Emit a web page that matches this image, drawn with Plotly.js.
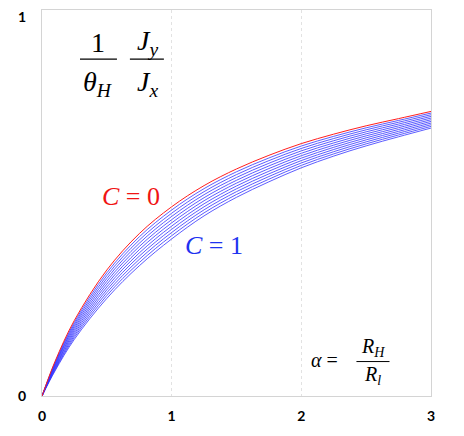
<!DOCTYPE html>
<html>
<head>
<meta charset="utf-8">
<script src="https://cdn.plot.ly/plotly-3.0.1.min.js"></script>
<style>
  html, body { margin: 0; padding: 0; background: #fff; }
  #chart { width: 464px; height: 436px; }
</style>
</head>
<body>
<div id="chart"></div>
<script>
// alpha values (x axis)
var alpha = [0, 0.1, 0.25, 0.5, 0.75, 1, 1.25, 1.5, 1.75, 2, 2.25, 2.5, 2.75, 3];

// C = 0 curve (red)
var curveC0 = [0, 0.091, 0.200, 0.333, 0.429, 0.500, 0.556, 0.600, 0.636, 0.667, 0.692, 0.714, 0.733, 0.752];

// C = 0.1 ... 1 curves (blue)
var curvesBlue = [
    [0, 0.0885, 0.195, 0.3255, 0.4205, 0.4915, 0.548, 0.5925, 0.629, 0.6606, 0.6862, 0.7087, 0.7282, 0.7476],
    [0, 0.086, 0.190, 0.318, 0.412, 0.483, 0.540, 0.585, 0.622, 0.6542, 0.6804, 0.7034, 0.7234, 0.7432],
    [0, 0.0835, 0.185, 0.3105, 0.4035, 0.4745, 0.532, 0.5775, 0.615, 0.6478, 0.6746, 0.6981, 0.7186, 0.7388],
    [0, 0.081, 0.180, 0.303, 0.395, 0.466, 0.524, 0.570, 0.608, 0.6414, 0.6688, 0.6928, 0.7138, 0.7344],
    [0, 0.0785, 0.175, 0.2955, 0.3865, 0.4575, 0.516, 0.5625, 0.601, 0.635, 0.663, 0.6875, 0.709, 0.730],
    [0, 0.076, 0.170, 0.288, 0.378, 0.449, 0.508, 0.555, 0.594, 0.6286, 0.6572, 0.6822, 0.7042, 0.7256],
    [0, 0.0735, 0.165, 0.2805, 0.3695, 0.4405, 0.500, 0.5475, 0.587, 0.6222, 0.6514, 0.6769, 0.6994, 0.7212],
    [0, 0.071, 0.160, 0.273, 0.361, 0.432, 0.492, 0.540, 0.580, 0.6158, 0.6456, 0.6716, 0.6946, 0.7168],
    [0, 0.0685, 0.155, 0.2655, 0.3525, 0.4235, 0.484, 0.5325, 0.573, 0.6094, 0.6398, 0.6663, 0.6898, 0.7124],
    [0, 0.066, 0.150, 0.258, 0.344, 0.415, 0.476, 0.525, 0.566, 0.603, 0.634, 0.661, 0.685, 0.708]
];

var xTicks = [0, 1, 2, 3];
var yTicks = [0, 1];

var data = [];
curvesBlue.forEach(function (c) {
    data.push({
        x: alpha, y: c, type: 'scatter', mode: 'lines',
        line: { color: 'rgb(50,50,255)', width: 0.8, shape: 'spline' },
        hoverinfo: 'skip'
    });
});
data.push({
    x: alpha, y: curveC0, type: 'scatter', mode: 'lines',
    line: { color: 'rgb(255,30,30)', width: 1, shape: 'spline' },
    hoverinfo: 'skip'
});

var serif = 'Liberation Serif, DejaVu Serif, serif';
var bigFont = { family: serif, size: 28, color: '#000' };
var smallFont = { family: serif, size: 20, color: '#000' };

function ann(x, y, text, font) {
    return { x: x, y: y, xref: 'x', yref: 'y', text: text, showarrow: false,
             xanchor: 'center', yanchor: 'middle', font: font };
}

var annotations = [
    ann(0.432, 0.935, '1', bigFont),
    ann(0.432, 0.826, '<i>θ</i><sub><i>H</i></sub>', bigFont),
    ann(0.815, 0.935, '<i>J</i><sub><i>y</i></sub>', bigFont),
    ann(0.815, 0.826, '<i>J</i><sub><i>x</i></sub>', bigFont),
    ann(0.69, 0.526, '<i>C</i> = 0', { family: serif, size: 26, color: 'rgb(240,20,20)' }),
    ann(1.33, 0.398, '<i>C</i> = 1', { family: serif, size: 26, color: 'rgb(30,50,240)' }),
    ann(2.18, 0.094, '<i>α</i> =', smallFont),
    ann(2.55, 0.127, '<i>R</i><sub><i>H</i></sub>', smallFont),
    ann(2.55, 0.055, '<i>R</i><sub><i>l</i></sub>', smallFont)
];

var shapes = [
    { type: 'line', xref: 'x', yref: 'y', x0: 0.293, x1: 0.578, y0: 0.890, y1: 0.890, line: { color: '#000', width: 1.2 } },
    { type: 'line', xref: 'x', yref: 'y', x0: 0.678, x1: 0.94, y0: 0.890, y1: 0.890, line: { color: '#000', width: 1.2 } },
    { type: 'line', xref: 'x', yref: 'y', x0: 2.425, x1: 2.68, y0: 0.091, y1: 0.091, line: { color: '#000', width: 1 } }
];

var tickFont = { family: 'Lato, Open Sans, sans-serif', size: 14, weight: 'bold', color: '#000' };

var layout = {
    width: 464,
    height: 436,
    margin: { l: 42, r: 33, t: 10, b: 40 },
    paper_bgcolor: '#fff',
    plot_bgcolor: '#fff',
    showlegend: false,
    xaxis: {
        range: [0, 3], tickvals: xTicks, ticktext: xTicks.map(String),
        showgrid: true, gridcolor: '#e2e2e2', griddash: 'dot', gridwidth: 1,
        zeroline: false, showline: true, linecolor: '#d4d4d4', linewidth: 1, mirror: true,
        ticks: '', tickfont: tickFont, ticklabelstandoff: 7
    },
    yaxis: {
        range: [0, 1.02], tickvals: yTicks, ticktext: yTicks.map(String),
        showgrid: false, zeroline: false, showline: true, linecolor: '#d4d4d4', linewidth: 1, mirror: true,
        ticks: '', tickfont: tickFont, ticklabelstandoff: 12
    },
    annotations: annotations,
    shapes: shapes
};

Plotly.newPlot('chart', data, layout, { displayModeBar: false, staticPlot: true });
</script>
</body>
</html>
